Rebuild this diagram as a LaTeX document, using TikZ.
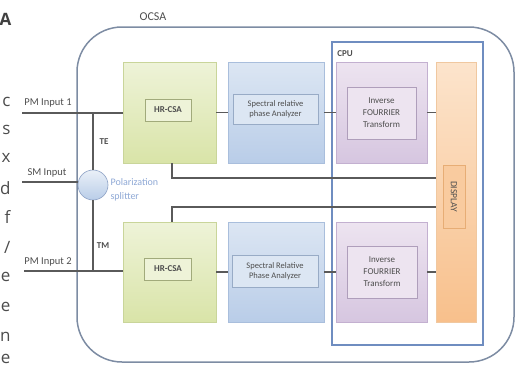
\documentclass[tikz,border=0pt]{standalone}
\usepackage{fontspec}
\setmainfont{Carlito}
\newfontfamily\pagefont{Open Sans}
\usetikzlibrary{positioning,calc}
\definecolor{ocsaline}{HTML}{7D8CA3}
\definecolor{cpuline}{HTML}{6F8DC0}
\definecolor{wireline}{HTML}{5A5A5A}
\definecolor{boxtext}{HTML}{4E4E4E}
\definecolor{splitblue}{HTML}{8FA9D6}
\definecolor{greentop}{HTML}{EEF3D8}
\definecolor{greenbot}{HTML}{D9E4A8}
\definecolor{greenline}{HTML}{C9D59A}
\definecolor{bluetop}{HTML}{DCE6F3}
\definecolor{bluebot}{HTML}{B9CDE8}
\definecolor{blueline}{HTML}{A9BEDC}
\definecolor{purptop}{HTML}{EDE4F0}
\definecolor{purpbot}{HTML}{D6C6E0}
\definecolor{purpline}{HTML}{C3B0D0}
\definecolor{dsptop}{HTML}{FCE4CC}
\definecolor{dspbot}{HTML}{F8C08C}
\definecolor{dspline}{HTML}{F0C8A0}
\tikzset{
	bigbox/.style={rectangle, inner sep=0pt, draw=#1, line width=0.5pt, minimum width=93, minimum height=101},
	greenbox/.style={bigbox=greenline, top color=greentop, bottom color=greenbot},
	bluebox/.style={bigbox=blueline, top color=bluetop, bottom color=bluebot},
	purplebox/.style={bigbox=purpline, top color=purptop, bottom color=purpbot},
	innerbox/.style={rectangle, inner sep=1pt, draw=#1, line width=0.7pt, font=\fontsize{9}{12}\selectfont, text=boxtext, align=center},
	link/.style={draw=wireline, line width=1.3pt},
	inlabel/.style={font=\fontsize{10.5}{12}\selectfont, text=boxtext}
}
\begin{document}
\begin{tikzpicture}[x=1pt,y=-1pt]
\useasboundingbox (0,0) rectangle (516,367);
% text of the page around the figure
\node[anchor=east, font=\pagefont\fontsize{17}{17}\bfseries, text=black!75] (pa) at (15,19) {A};
\foreach \ch/\yy in {c/102, s/130, x/158, d/188, f/217, e/277, e/307, n/337, e/359}
	\node[anchor=east, font=\pagefont\fontsize{17}{17}\selectfont, text=black!70] at (14,\yy) {\ch};
\node[anchor=east, font=\pagefont\fontsize{17}{17}\selectfont, text=black!70] (slash) at (14,247) {/};

% OCSA frame and CPU frame
\node[rectangle, draw=ocsaline, line width=1.5pt, rounded corners=45pt, minimum width=437, minimum height=335, fill=white] (ocsa) at (295.5,194.5) {};
\node[font=\fontsize{12}{13}\selectfont, text=boxtext] (ocsalbl) at (153,17) {OCSA};
\node[rectangle, draw=cpuline, line width=1.1pt, minimum width=151, minimum height=303] (cpu) at (407.5,193.5) {};
\node[font=\fontsize{9}{10}\bfseries, text=boxtext] (cpulbl) at (345,54) {CPU};

% upper chain
\node[greenbox] (hrA) at (169.5,112.5) {};
\node[bluebox, minimum width=96] (spA) at (276,112.5) {};
\node[purplebox, minimum width=91] (ifA) at (381.5,112.5) {};
\node[innerbox=greenline!80!black, fill=greentop, minimum width=46, minimum height=22, font=\fontsize{9}{10}\bfseries] (hrAin) at (168,110) {HR-CSA};
\node[innerbox=blueline!90!black, fill=bluetop, minimum width=85, minimum height=30, font=\fontsize{8.5}{10.5}\selectfont] (spAin) at (275.5,109) {Spectral relative\\phase Analyzer};
\node[innerbox=purpline!90!black, fill=purptop, minimum width=69, minimum height=52] (ifAin) at (381.5,113) {Inverse\\FOURRIER\\Transform};

% lower chain
\node[greenbox, minimum height=100] (hrB) at (169.5,272) {};
\node[bluebox, minimum width=96, minimum height=100] (spB) at (276,272) {};
\node[purplebox, minimum width=91, minimum height=100] (ifB) at (381.5,272) {};
\node[innerbox=greenline!80!black, fill=greentop, minimum width=47, minimum height=22, font=\fontsize{9}{10}\bfseries] (hrBin) at (168,269) {HR-CSA};
\node[innerbox=blueline!90!black, fill=bluetop, minimum width=86, minimum height=32, font=\fontsize{8.5}{10.5}\selectfont] (spBin) at (275,271) {Spectral Relative\\Phase Analyzer};
\node[innerbox=purpline!90!black, fill=purptop, minimum width=70, minimum height=52] (ifBin) at (382,272) {Inverse\\FOURRIER\\Transform};

% display
\node[rectangle, inner sep=0pt, draw=dspline, top color=dsptop, bottom color=dspbot, minimum width=40, minimum height=260] (disp) at (456,192) {};
\node[innerbox=dspbot!70!brown, fill=dspbot!70!dsptop, rotate=-90, minimum width=63, minimum height=22, font=\fontsize{9.5}{10}\selectfont] (displbl) at (454,196.5) {DISPLAY};

% links between blocks
\draw[link] (hrA.east) -- (spA.west);
\draw[link] (spA.east) -- (ifA.west);
\draw[link] (ifA.east) -- (disp.west |- ifA.east);
\draw[link] (hrB.east) -- (spB.west);
\draw[link] (spB.east) -- (ifB.west);
\draw[link] (ifB.east) -- (disp.west |- ifB.east);
\coordinate (fbA) at (436,178);
\coordinate (fbB) at (436,207);
\draw[link] ([xshift=2.5pt]hrA.south) |- (fbA);
\draw[link] ([xshift=2.5pt]hrB.north) |- (fbB);

% inputs and polarization splitter
\coordinate (pm1) at (22,113);
\coordinate (sm) at (22,182);
\coordinate (pm2) at (24,271);
\node[circle, draw=splitblue!80!gray, line width=0.6pt, inner sep=0pt, minimum size=30, top color=bluetop!60!white, bottom color=bluebot] (spl) at (93,185) {};
\draw[link] (pm1) -- (hrA.west |- pm1);
\draw[link] (pm2) -- (hrB.west |- pm2);
\draw[link] (sm) -- (spl.west |- sm);
\draw[link] (spl.north) -- (spl.north |- pm1);
\draw[link] (spl.south) -- (spl.south |- pm2);
\node[inlabel] (pm1lbl) at (48,103) {PM Input 1};
\node[inlabel] (smlbl) at (47,173) {SM Input};
\node[inlabel] (pm2lbl) at (48,262) {PM Input 2};
\node[inlabel, font=\fontsize{9}{10}\bfseries] (te) at (104,142) {TE};
\node[inlabel, font=\fontsize{9}{10}\bfseries] (tm) at (103,246) {TM};
\node[inlabel, anchor=west, text=splitblue, align=left, font=\fontsize{10}{14}\selectfont] (spllbl) at (107,190) {Polarization\\splitter};
\end{tikzpicture}
\end{document}
